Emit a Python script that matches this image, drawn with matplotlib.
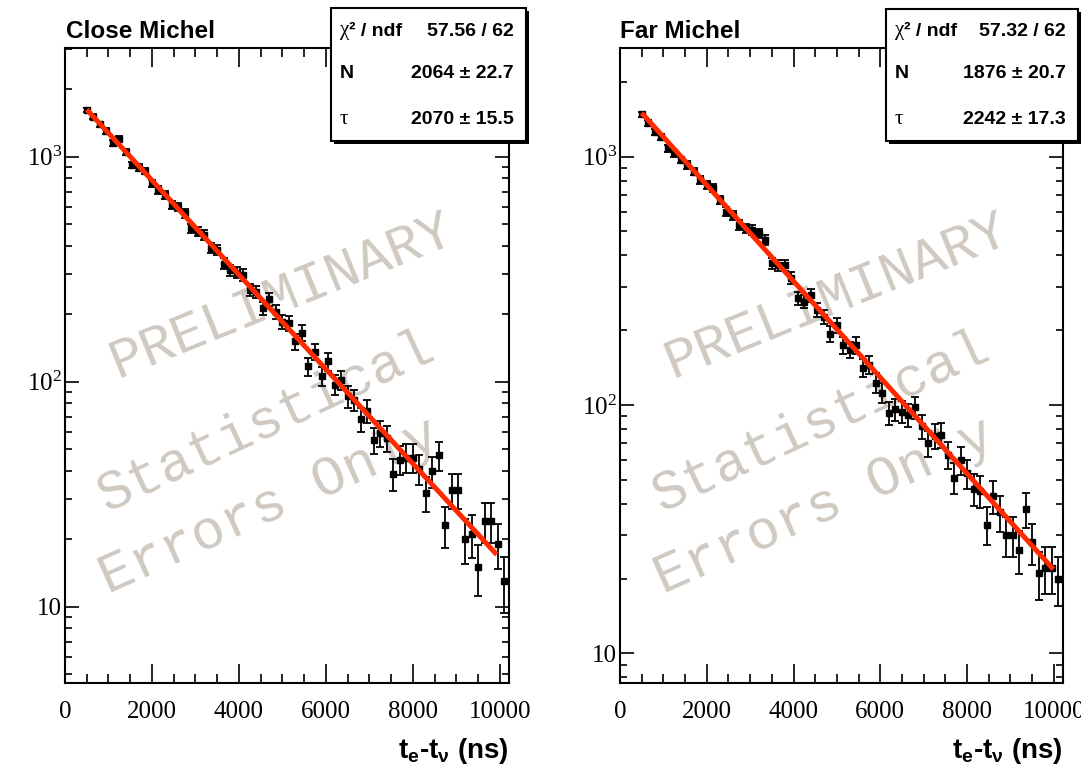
# Michel electron decay time fits, close and far samples

import numpy as np
import matplotlib.pyplot as plt
from matplotlib.patches import Rectangle
from matplotlib.ticker import MultipleLocator, LogLocator, FuncFormatter, NullFormatter

plt.rcParams['font.family'] = ['Liberation Serif', 'DejaVu Serif']
plt.rcParams['mathtext.fontset'] = 'custom'
plt.rcParams['mathtext.rm'] = 'Liberation Serif'
plt.rcParams['mathtext.it'] = 'Liberation Serif:italic'
plt.rcParams['mathtext.bf'] = 'Liberation Sans:bold'

# histogram binning (ns)
bin_first = 500
bin_last = 10100
bin_width = 150
t_centers = np.arange(bin_first, bin_last + 1, bin_width)

# counts per bin
close_counts = [1613, 1506, 1393, 1301, 1147, 1199, 1052, 919, 894, 864,
                762, 711, 676, 610, 600, 560, 481, 464, 449, 392,
                385, 335, 312, 305, 298, 256, 251, 212, 232, 205,
                185, 182, 151, 165, 117, 136, 106, 123, 97, 102,
                86, 83, 68, 74, 55, 59, 56, 39, 45, 46,
                46, 41, 32, 40, 47, 23, 33, 33, 20, 21,
                15, 24, 24, 19, 13]
far_counts = [1480, 1370, 1261, 1204, 1081, 1032, 970, 926, 870, 806,
              769, 746, 669, 600, 582, 531, 515, 506, 491, 462,
              372, 366, 366, 324, 269, 261, 277, 241, 227, 194,
              210, 174, 167, 174, 141, 145, 123, 112, 93, 96,
              94, 91, 98, 82, 70, 75, 76, 63, 51, 60,
              53, 46, 45, 33, 43, 37, 30, 30, 26, 38,
              28, 21, 22, 22, 20]

# fit results  N * exp(-t / tau)
close_N, close_N_err = 2064, 22.7
close_tau, close_tau_err = 2070, 15.5
close_chi2, close_ndf = 57.56, 62
far_N, far_N_err = 1876, 20.7
far_tau, far_tau_err = 2242, 17.3
far_chi2, far_ndf = 57.32, 62

W, H = 1081, 776
fig = plt.figure(figsize=(W / 100, H / 100), dpi=100)

def fx(x):
    return x / W

def fy(y):
    return 1 - y / H

def ylab(v, pos):
    if abs(v - 10) < 1e-6:
        return '10'
    return r'$\mathregular{10^{%d}}$' % round(np.log10(v))

def panel(x0, x1, ylo, yhi, counts, N, N_err, tau, tau_err, chi2, ndf,
          title, fit_end, box, wm_x):
    ax = fig.add_axes([fx(x0), fy(683), fx(x1) - fx(x0), fy(48) - fy(683)])
    ax.set_yscale('log')
    ax.set_xlim(0, 10200)
    ax.set_ylim(ylo, yhi)

    counts = np.array(counts, dtype=float)
    ax.errorbar(t_centers, counts, yerr=np.sqrt(counts), fmt='s', color='black',
                ms=5, capsize=2.6, elinewidth=1.3, capthick=1.3, zorder=3)
    tt = np.linspace(bin_first, fit_end, 300)
    ax.plot(tt, N * np.exp(-tt / tau), color='#ff2a00', lw=3.6, zorder=4,
            solid_capstyle='butt')

    ax.xaxis.set_major_locator(MultipleLocator(2000))
    ax.xaxis.set_minor_locator(MultipleLocator(500))
    ax.yaxis.set_major_locator(LogLocator(base=10, numticks=10))
    ax.yaxis.set_minor_locator(LogLocator(base=10, subs=np.arange(2, 10), numticks=10))
    ax.yaxis.set_major_formatter(FuncFormatter(ylab))
    ax.yaxis.set_minor_formatter(NullFormatter())
    ax.tick_params(which='both', direction='in', top=True, right=True, width=1.2)
    ax.tick_params(axis='x', which='major', length=14, pad=13, labelsize=18)
    ax.tick_params(axis='x', which='minor', length=6.5)
    ax.tick_params(axis='y', which='major', length=10, pad=2, labelsize=18)
    ax.tick_params(axis='y', which='minor', length=5)
    for s in ax.spines.values():
        s.set_linewidth(1.5)

    # watermark
    wm = dict(family='Liberation Mono', color='#d0c9c2', fontsize=40,
              ha='center', va='center', rotation_mode='anchor',
              transform=fig.transFigure, zorder=1)
    ax.text(fx(wm_x + 27), fy(297), 'PRELIMINARY', rotation=22, **wm)
    ax.text(fx(wm_x + 12), fy(422), 'Statistical', rotation=25, **wm)
    ax.text(fx(wm_x + 14), fy(507), 'Errors Only', rotation=24, **wm)

    # title
    fig.text(fx(x0 + 0.5), fy(31), title, ha='left', va='center', fontsize=17.5,
             fontweight='bold', family='Liberation Sans')

    # x label
    fig.text(fx(x1), fy(751), r'$\mathbf{t_{e}}$-$\mathbf{t_{\nu}}$ (ns)',
             ha='right', va='center', fontsize=20, fontweight='bold',
             family='Liberation Sans')

    # stats box with shadow
    bx0, by0, bx1, by1 = box
    fig.add_artist(Rectangle((fx(bx0 + 3), fy(by1 + 3)), fx(bx1 - bx0), fy(by0) - fy(by1),
                             transform=fig.transFigure, facecolor='black',
                             edgecolor='none', zorder=5))
    fig.add_artist(Rectangle((fx(bx0), fy(by1)), fx(bx1 - bx0), fy(by0) - fy(by1),
                             transform=fig.transFigure, facecolor='white',
                             edgecolor='black', lw=1.5, zorder=6))
    lx = bx0 + 9
    vx = bx1 - 12
    bold = dict(fontsize=14, fontweight='bold', family='Liberation Sans',
                va='center', zorder=7)
    sym = dict(fontsize=15, family='Liberation Serif', va='center', zorder=7)
    rows = [31, 74, 119]
    fig.text(fx(lx), fy(rows[0]), 'χ', ha='left', **sym)
    fig.text(fx(lx + 9), fy(rows[0]), '² / ndf', ha='left', **bold)
    fig.text(fx(vx), fy(rows[0]), '%.2f / %d' % (chi2, ndf), ha='right', **bold)
    fig.text(fx(lx), fy(rows[1]), 'N', ha='left', **bold)
    fig.text(fx(vx), fy(rows[1]), '%d ± %.1f' % (N, N_err), ha='right', **bold)
    fig.text(fx(lx), fy(rows[2]), 'τ', ha='left', **sym)
    fig.text(fx(vx), fy(rows[2]), '%d ± %.1f' % (tau, tau_err), ha='right', **bold)
    return ax

panel(65, 508.5, 4.58, 3041, close_counts, close_N, close_N_err, close_tau,
      close_tau_err, close_chi2, close_ndf, 'Close Michel', 9930,
      (331, 8, 526, 141), 255)
panel(620, 1062.5, 7.59, 2740, far_counts, far_N, far_N_err, far_tau,
      far_tau_err, far_chi2, far_ndf, 'Far Michel', 9990,
      (886, 9, 1078, 141), 810)

fig.savefig('out.png', dpi=100)
